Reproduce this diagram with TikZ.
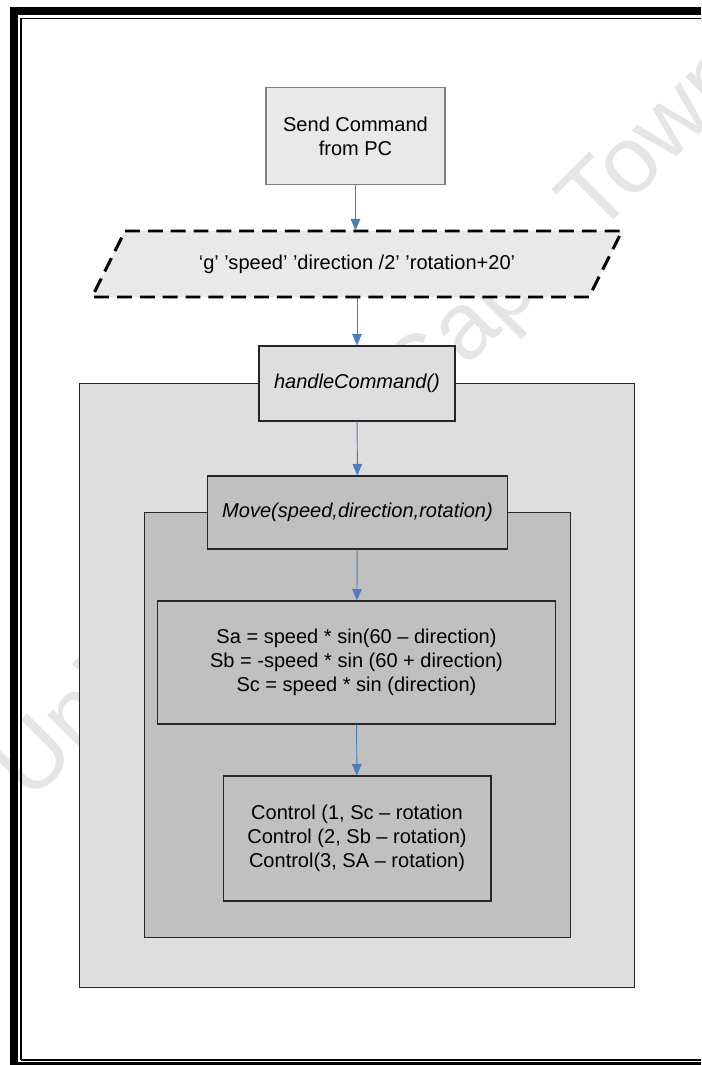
\documentclass[tikz,border=0pt]{standalone}
\usepackage{fontspec}
\setmainfont{Liberation Sans}
\usetikzlibrary{arrows.meta}
\definecolor{cblue}{HTML}{4A7EBB}
\definecolor{clight}{HTML}{E9E9E9}
\definecolor{cpanel}{HTML}{DEDEDE}
\definecolor{cmid}{HTML}{C0C0C0}
\definecolor{cedge}{HTML}{262626}
\definecolor{cmark}{HTML}{E5E5E5}
\tikzset{
  every picture/.style={font=\fontsize{11.4}{13.7}\selectfont, line width=0.6pt},
  box/.style={draw=cedge, fill=#1, align=center, inner sep=3pt},
  box/.default=cmid,
  flow/.style={-{Triangle[length=2.3mm, width=1.9mm]}, draw=cblue, line width=0.55pt},
  func/.style={font=\fontsize{11.4}{13.7}\selectfont\itshape},
  dashline/.style={draw=black, line width=1.7pt, dash pattern=on 8.5pt off 4.5pt},
  wmark/.style={text=cmark, font=\fontsize{54}{54}\selectfont, inner sep=0pt},
}

\begin{document}
\begin{tikzpicture}[x=0.02cm, y=-0.02cm]
  \useasboundingbox (0,0) rectangle (701,1065);
  \node[wmark, rotate=45, anchor=base west] (mark) at (30,804) {University of Cape Town};

  % page frame, thick outside and thin inside
  \fill (10,7) rectangle (18,1065);
  \fill (10,7) rectangle (701,15);
  \fill (10,1062) rectangle (701,1065);
  \draw[line width=1pt] (21,1060) -- (21,18.5) -- (701,18.5);
  \draw[line width=1pt] (21,1060) -- (701,1060);

  % nested panels
  \node[box=cpanel, minimum width=11.12cm, minimum height=12.1cm] (outer) at (357,685.5) {};
  \node[box=cmid, minimum width=8.54cm, minimum height=8.52cm] (inner) at (357.5,725) {};

  \node[box=clight, draw=gray, minimum width=3.58cm, minimum height=1.94cm] (send) at (355.5,136) {Send Command\\from PC};

  % data block as a slanted box
  \draw[dashline, fill=clight] (125,231) -- (622,231) -- (589,297) -- (92,297) -- cycle;
  \node[minimum width=9.94cm, minimum height=1.32cm] (cmd) at (357,264)
        {‘g’ ’speed’ ’direction /2’ ’rotation+20’};

  \node[box=cpanel, func, minimum width=3.92cm, minimum height=1.5cm] (handle) at (357,383.5) {handleCommand()};
  \node[box=cmid, func, minimum width=6cm, minimum height=1.46cm] (move) at (357.5,512.5) {Move(speed,direction,rotation)};
  \node[box=cmid, minimum width=7.98cm, minimum height=2.46cm] (speeds) at (356.5,662.5)
        {Sa = speed * sin(60 – direction)\\Sb = -speed * sin (60 + direction)\\Sc = speed * sin (direction)};
  \node[box=cmid, minimum width=5.36cm, minimum height=2.5cm] (ctrl) at (357,838.5)
        {Control (1, Sc – rotation\\Control (2, Sb – rotation)\\Control(3, SA – rotation)};

  \draw[flow] (send) -- (send |- cmd.north);
  \draw[flow] (cmd) -- (handle);
  \draw[flow] (handle) -- (move);
  \draw[flow] (move) -- (speeds);
  \draw[flow] (speeds) -- (ctrl);
\end{tikzpicture}
\end{document}
